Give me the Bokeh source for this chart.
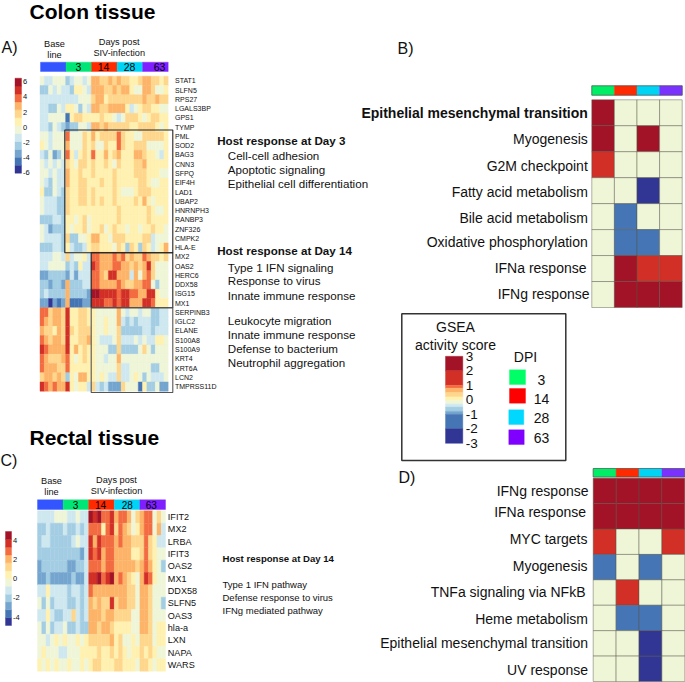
from bokeh.plotting import figure
from bokeh.models import ColumnDataSource
from bokeh.core.properties import value
from bokeh.embed import file_html
from bokeh.resources import INLINE

# ---------- data ----------
colon_genes = ["STAT1","SLFN5","RPS27","LGALS3BP","GPS1","TYMP","PML","SOD2","BAG3","CNN3","SFPQ","EIF4H","LAD1","UBAP2",
               "HNRNPH3","RANBP3","ZNF326","CMPK2","HLA-E","MX2","OAS2","HERC6","DDX58","ISG15","MX1","SERPINB3","IGLC2",
               "ELANE","S100A8","S100A9","KRT4","KRT6A","LCN2","TMPRSS11D"]
colon_values = [
[-1,-2,-2,-1,-1,-1,-3,-2,-1,-1,-2,-1,2,2,1,1,2,1,2,1,1,0,0,1,2,2,1,1,0,1],
[-3,-3,-1,-2,-1,-2,-2,-3,0,0,-1,-2,2,2,2,1,1,2,1,2,2,0,-1,-1,2,2,1,-1,-1,0],
[-2,-2,-2,-2,-2,-2,-2,-2,-2,-1,-1,-1,1,2,2,0,1,1,1,1,1,1,1,1,2,1,1,2,1,1],
[-2,-2,-3,-3,-1,-2,0,0,-1,-3,-1,-2,2,2,1,1,2,2,2,2,0,-2,-1,0,1,1,0,0,-1,-1],
[-2,-2,-1,-1,-1,-1,-5,0,1,1,0,0,0,0,1,0,0,-1,-2,-1,1,1,1,0,-1,0,1,1,0,0],
[-2,-2,-3,-1,-2,-3,-4,-3,-3,-1,-1,-2,2,2,1,2,1,1,1,1,1,0,0,1,1,1,1,0,-1,0],
[-1,-1,-2,-1,-1,-1,3,-1,-1,-1,1,0,2,0,1,1,1,1,3,1,0,0,-1,-1,1,1,1,1,1,0],
[0,-1,-2,-1,-1,-1,2,-1,-1,-1,1,0,1,-1,-1,1,0,0,3,1,0,0,1,1,1,-1,-1,-1,-1,0],
[-2,-3,-1,-4,-3,-1,3,0,-2,0,1,0,3,0,0,2,0,1,2,0,0,0,2,2,1,0,0,-1,-2,0],
[-1,-2,-1,-2,-1,-2,1,0,-1,1,1,0,1,0,0,1,0,-1,1,0,0,0,1,1,2,0,0,0,0,0],
[-1,-1,-2,-1,-2,-2,2,0,0,1,0,0,1,0,0,0,0,1,0,0,0,0,1,1,1,0,0,0,-1,-1],
[-1,-2,-3,-1,-2,-2,2,0,0,1,1,0,0,0,1,0,0,1,0,0,0,0,0,1,1,0,-1,-1,0,0],
[0,-3,-3,-1,-2,-3,1,0,0,1,1,0,1,0,0,0,0,1,0,-1,-1,-1,0,1,1,1,0,0,0,0],
[-1,-2,-2,-2,-3,-3,1,0,0,1,1,0,1,0,1,0,0,1,0,0,0,0,1,0,2,0,-1,0,0,0],
[-1,-2,-2,-2,-3,-3,1,0,0,0,0,0,0,0,0,0,0,0,1,0,0,0,0,0,0,1,0,-1,-1,0],
[-3,-3,-3,-2,-2,-3,0,0,-1,0,1,-1,0,0,0,0,0,0,1,0,0,0,0,0,0,1,0,0,0,0],
[-1,-2,-4,-3,-3,-3,0,-1,0,0,1,-1,0,0,1,-1,0,1,0,0,-1,0,0,-1,0,0,1,0,0,-1],
[-1,-2,-2,-2,-2,-3,1,-3,-3,-1,-1,0,2,2,0,0,-1,1,1,1,0,0,0,0,1,1,-2,-1,-1,-1],
[-3,-3,-3,-2,-2,-3,0,-2,-3,-3,-2,0,1,1,0,0,0,-1,1,0,-3,1,0,-3,1,0,-2,-1,0,2],
[-2,-2,-2,-1,-1,-2,1,-2,-1,-1,0,-2,3,3,2,2,2,3,2,3,1,2,1,1,3,2,1,1,0,1],
[-2,-2,-1,-1,-1,-1,-3,-2,-3,0,-2,-2,4,3,2,2,2,3,3,2,2,1,2,1,2,4,1,-1,-1,-1],
[-4,-4,-3,-3,-3,-3,-4,-2,-4,-2,-2,-2,3,3,2,1,4,4,2,2,2,-2,2,-1,2,3,1,-1,-1,-1],
[-3,-3,-4,-3,-3,-4,2,-3,-3,-3,-2,-2,3,3,2,2,2,2,3,2,1,1,2,2,3,3,-1,-3,-1,-1],
[-3,-2,-3,-3,-3,-3,2,-3,-3,-3,-3,-4,5,5,4,4,4,4,3,4,4,3,3,2,2,4,4,0,-1,-1],
[-4,-4,-6,-4,-5,-4,2,-5,-5,-5,-4,-4,4,4,4,3,3,4,3,4,4,2,2,2,4,4,3,0,0,0],
[3,3,1,2,2,1,4,0,0,1,1,0,0,-1,-1,-1,-1,-1,2,-1,-2,-1,-1,-2,-1,-1,-3,-3,-2,-2],
[3,2,1,2,2,1,4,0,0,1,1,0,0,-1,-1,0,-1,-1,2,-2,-3,-2,-3,-2,-2,-2,-3,-3,-2,-2],
[2,1,1,0,2,1,4,1,0,1,1,1,0,-1,-1,0,-1,-1,1,-3,-3,-3,-3,-3,-2,-2,-3,-2,-2,-2],
[3,2,1,2,2,1,4,0,0,1,1,2,0,-1,-2,-2,-2,-1,1,-2,-2,-2,-1,-2,-1,-2,-2,0,0,-1],
[4,3,2,2,2,2,4,0,2,0,1,0,0,-1,-1,-1,-3,-3,1,-3,-3,-3,-3,-1,1,-1,-3,-1,-1,-1],
[3,2,1,1,1,2,3,0,-1,0,1,0,0,-1,-1,-2,-1,-1,2,-1,-1,-1,-1,-1,-1,-1,-1,-1,-1,-1],
[3,2,2,2,1,1,3,0,0,0,0,0,0,-1,-1,-1,-1,-1,1,-2,-2,-1,-1,-1,-1,-1,-3,-3,-1,-1],
[1,2,2,1,2,1,-3,0,-1,2,2,0,0,-1,0,-1,-2,-2,1,-2,-2,-1,0,-1,-3,-1,-2,-2,-2,-1],
[4,3,2,3,2,2,4,0,-1,0,0,-2,1,-2,-3,-2,-4,-4,-4,1,-1,-1,-1,-5,0,-3,-3,-1,-4,-4],
]
rectal_genes = ["IFIT2","MX2","LRBA","IFIT3","OAS2","MX1","DDX58","SLFN5","OAS3","hla-a","LXN","NAPA","WARS"]
rectal_values = [
[-2,-2,-2,-2,-1,-1,-1,-2,-2,-1,-2,-2,5,4,5,3,3,4,2,3,3,2,-1,1,2,3,3,-1,1,-1],
[-3,-3,-2,-3,-3,-3,-2,-3,-3,-2,-3,-2,3,3,3,0,3,4,1,3,2,1,-1,0,2,3,3,-1,2,-2],
[-3,-2,-2,-3,-3,-3,-3,-3,-2,-1,-2,-2,4,2,4,3,3,3,2,3,2,2,1,1,1,3,1,0,-2,-2],
[-3,-3,-3,-3,-3,-3,-3,-3,-3,-3,-4,-2,4,3,4,2,3,3,2,2,2,2,0,0,1,3,1,0,-1,-1],
[-4,-3,-3,-3,-3,-3,-3,-4,-4,-3,-3,-2,3,3,3,2,3,3,2,2,2,2,2,1,2,3,2,0,-1,-3],
[-4,-4,-3,-4,-4,-4,-4,-4,-3,-4,-4,-2,4,4,5,3,4,5,2,3,2,1,0,-1,2,4,3,0,-1,-1],
[-2,-2,0,-2,-2,-2,-2,-3,-2,-2,-3,-2,3,2,2,2,2,2,2,2,2,1,1,-1,2,2,1,-1,-1,-1],
[-1,-3,-1,-3,-2,-2,-2,-3,-3,-2,-3,-2,2,1,2,1,1,4,1,2,2,1,1,-1,2,2,1,-1,-1,-3],
[-2,-2,0,-2,-3,-3,-2,-2,1,-2,-3,-2,2,2,2,1,2,2,1,1,1,1,-1,-1,2,2,1,-1,-1,-1],
[-1,-3,-1,-3,-2,-2,-1,-3,-3,-2,-3,-3,2,2,1,2,2,1,0,0,0,0,-1,-1,2,2,1,-1,0,0],
[-1,-1,-2,-1,0,-1,0,-1,-1,0,-1,0,1,1,1,1,1,2,0,1,-1,-1,0,-1,1,1,1,-1,0,0],
[-1,0,-1,-1,-1,-2,-2,-1,-1,-1,0,0,0,0,1,0,0,1,0,1,0,-1,0,0,1,0,1,0,-1,-1],
[0,-1,0,-1,0,-1,-1,0,-1,-1,0,-1,0,1,1,0,0,0,1,1,0,0,0,-1,1,1,0,-1,0,0],
]
heat_ticks = [6, 4, 2, 0, -2, -4, -6]
rectal_ticks = [4, 2, 0, -2, -4]
group_labels = ["3", "14", "28", "63"]
pathways_b = ["Epithelial mesenchymal transition","Myogenesis","G2M checkpoint","Fatty acid metabolism",
              "Bile acid metabolism","Oxidative phosphorylation","IFNa response","IFNg response"]
gsea_b = [[3,0,0,0],[3,0,3,0],[2,0,0,0],[0,0,-3,0],[0,-2,0,0],[0,-2,-2,0],[0,3,2,2],[0,3,3,3]]
pathways_d = ["IFNg response","IFNa response","MYC targets","Myogenesis","TNFa signaling via NFkB","Heme metabolism",
              "Epithelial mesenchymal transition","UV response"]
gsea_d = [[3,3,3,3],[3,3,3,3],[2,0,0,2],[-2,0,-2,0],[0,2,0,0],[0,-2,-2,0],[0,0,-3,0],[0,0,-3,0]]
gsea_ticks = [3, 2, 1, 0, -1, -2, -3]
gsea_edges = [3, 2, 1, 0.8, 0.5, 0.2, -0.05, -0.3, -0.5, -0.8, -1, -2, -3]

# ---------- styles ----------
PAL = ["#313695","#4575b4","#74a5cf","#a3cde3","#cfe8f0","#eff6d8","#fff1b0","#fed68c","#fdb468","#f36b40","#d22f27","#a21327"]
GROUP = ["#3355ff","#00e676","#ff2a00","#00d4f5","#7f1fff"]
ANNOT = ["#00ee66","#ff2a00","#00d4f5","#7a33ff"]
DPI = ["#00ff66","#ff0000","#00d8ff","#8000ff"]
FONT = value("Liberation Sans")
def cell_color(v): return PAL[v + 6]
def gsea_color(v): return {3:PAL[11],2:PAL[10],0:PAL[5],-2:PAL[1],-3:PAL[0]}[v]

p = figure(width=685, height=682, x_range=(0,685), y_range=(682,0), output_backend="svg",
           toolbar_location=None, min_border=0, outline_line_color=None)
p.axis.visible = False
p.grid.visible = False

def T(x, y, s, size, align="left", style="normal", color="#111111"):
    xs = x if isinstance(x, list) else [x]*len(s) if isinstance(s, list) else [x]
    ys = y if isinstance(y, list) else [y]*len(xs)
    ss = s if isinstance(s, list) else [s]
    p.text(x=xs, y=ys, text=ss, text_font=FONT, text_font_size=f"{size}px", text_align=align,
           text_baseline="middle", text_font_style=style, text_color=color)

def Q(l, r, t, b, colors, line=None, lw=0.4, alpha=1.0):
    src = ColumnDataSource(dict(left=l, right=r, top=t, bottom=b, c=colors))
    p.quad(left="left", right="right", top="top", bottom="bottom", fill_color="c", source=src,
           line_color=line if line else "c", line_width=lw, line_alpha=alpha)

def heat(mat, x0, x1, y0, y1, colfn, line=None, lw=0.4, alpha=1.0):
    nr, nc = len(mat), len(mat[0])
    dx, dy = (x1-x0)/nc, (y1-y0)/nr
    L,R,TT,B,C = [],[],[],[],[]
    for i,row in enumerate(mat):
        assert len(row) == nc, i
        for j,v in enumerate(row):
            L.append(x0+j*dx); R.append(x0+(j+1)*dx); TT.append(y0+i*dy); B.append(y0+(i+1)*dy); C.append(colfn(v))
    Q(L,R,TT,B,C,line,lw,alpha)

def bar(colors, x0, x1, y0, y1):
    n = len(colors); d=(x1-x0)/n
    Q([x0+i*d for i in range(n)],[x0+(i+1)*d for i in range(n)],[y0]*n,[y1]*n,colors)

def box(x0,x1,y0,y1,color="#222222",w=1.1):
    p.quad(left=[x0],right=[x1],top=[y0],bottom=[y1],fill_alpha=0,line_color=color,line_width=w)

# --- titles ---
T(29, 11, "Colon tissue", 21, style="bold", color="black")
T(29, 437, "Rectal tissue", 21, style="bold", color="black")
T(1, 47, "A)", 16); T(397, 48, "B)", 16); T(0, 460, "C)", 16); T(398, 477, "D)", 16)

# --- A heatmap ---
cx0, cx1, cy0, cy1 = 39.5, 167.7, 75.7, 390.7
heat(colon_values, cx0, cx1, cy0, cy1, cell_color)
bar(GROUP, cx0+0.5, cx1, 61.7, 71)
for x,l in zip([78,103,129,159], group_labels): T(x, 66.5, l, 10.5, "center", color="black")
T(54, 43, "Base", 9.2, "center"); T(54, 54, "line", 9.2, "center")
T(118.7, 41, "Days post", 9.2, "center"); T(118.7, 52.3, "SIV-infection", 9.2, "center")
dy = (cy1-cy0)/len(colon_genes)
T(174.5, [cy0+dy*(i+.5) for i in range(len(colon_genes))], colon_genes, 7)
box(64.3,172.3,129.5,252.3); box(90.7,172.3,252.3,307.3); box(90.7,172.3,307.3,392,"#555555")
# colour bar A
n=len(PAL); h=(172.7-77.7)/n
Q([14.5]*n,[21]*n,[172.7-(i+1)*h for i in range(n)],[172.7-i*h for i in range(n)],PAL)
T(22.5,[126.7-7.6*v for v in heat_ticks],[str(v) for v in heat_ticks],7.5)
# annotations A
T(216.7,140,"Host response at Day 3",11.6,style="bold")
for y,s in zip([155,169,183],["Cell-cell adhesion","Apoptotic signaling","Epithelial cell differentiation"]): T(227.3,y,s,11.6)
T(216.7,249.5,"Host response at Day 14",11.6,style="bold")
for y,s in zip([266.7,280.3,294.7],["Type 1 IFN signaling","Response to virus","Innate immune response"]): T(227.3,y,s,11.6)
for y,s in zip([320,334,348,362],["Leukocyte migration","Innate immune response","Defense to bacterium","Neutrophil aggregation"]): T(227.3,y,s,11.6)

# --- C heatmap ---
rx0, rx1, ry0, ry1 = 37, 165, 510.3, 670.7
heat(rectal_values, rx0, rx1, ry0, ry1, cell_color)
bar(GROUP, rx0, rx1, 499.3, 509)
for x,l in zip([75,100,126.7,150.7], group_labels): T(x, 504, l, 10, "center", color="black")
T(51, 480.7, "Base", 9.2, "center"); T(51, 491.7, "line", 9.2, "center")
T(116, 479, "Days post", 9.2, "center"); T(116, 490, "SIV-infection", 9.2, "center")
dy = (ry1-ry0)/len(rectal_genes)
T(167.3, [ry0+dy*(i+.5) for i in range(len(rectal_genes))], rectal_genes, 9.1)
h=(625-531)/n
Q([5]*n,[11]*n,[625-(i+1)*h for i in range(n)],[625-i*h for i in range(n)],PAL)
T(12.5,[578.3-9.55*v for v in rectal_ticks],[str(v) for v in rectal_ticks],7.5)
T(222,558,"Host response at Day 14",9.6,style="bold")
for y,s in zip([584,597,610],["Type 1 IFN pathway","Defense response to virus","IFNg mediated pathway"]): T(222,y,s,9.5)

# --- B ---
bx0,bx1,by0,by1 = 591.3,681.7,99.3,307
bar(ANNOT,bx0,bx1,85.3,94.7)
box(bx0,bx1,85.3,94.7,"#555555",0.7)
heat(gsea_b,bx0,bx1,by0,by1,gsea_color,"#555544",1,0.45)
for i,(s,y,xr) in enumerate(zip(pathways_b,[112.3,138.3,165,191,217,241,267.3,293.3],[587.3]*6+[586,589])):
    T(xr,y,s,14,"right",style="bold" if i==0 else "normal")

# --- D ---
dx0,dx1,dy0,dy1 = 592.7,684.3,477.7,681
bar(ANNOT,dx0,dx1,468,476.5)
box(dx0,dx1,468,476.5,"#555555",0.7)
heat(gsea_d,dx0,dx1,dy0,dy1,gsea_color,"#555544",1,0.45)
for s,y,xr in zip(pathways_d,[490,511,538,565,591.3,618,642.3,669],[588,585.5,587,587,585,587.5,587.5,587.5]):
    T(xr,y,s,14,"right")

# --- GSEA legend ---
box(401.3,565.3,313.3,460,"#333333",1.5)
T(455,326.7,"GSEA",14,"center"); T(455,344,"activity score",14,"center")
gy = lambda v: 399.3 - 14.5*v
Q([445]*12,[462.3]*12,[gy(a) for a in gsea_edges[:-1]],[gy(b) for b in gsea_edges[1:]],PAL[::-1])
T(465.3,[gy(v) for v in gsea_ticks],[str(v) for v in gsea_ticks],13.5)
T(525,356.7,"DPI",14,"center")
Q([509,509,508.3,508.3],[525,525,523.3,523.7],[369.3,388,409.3,429.3],[384,402.7,424,444],DPI)
for y,s in zip([379,398.3,417.7,437],group_labels): T(541,y,s,14,"center")

open("out.html","w").write(file_html(p, INLINE))
